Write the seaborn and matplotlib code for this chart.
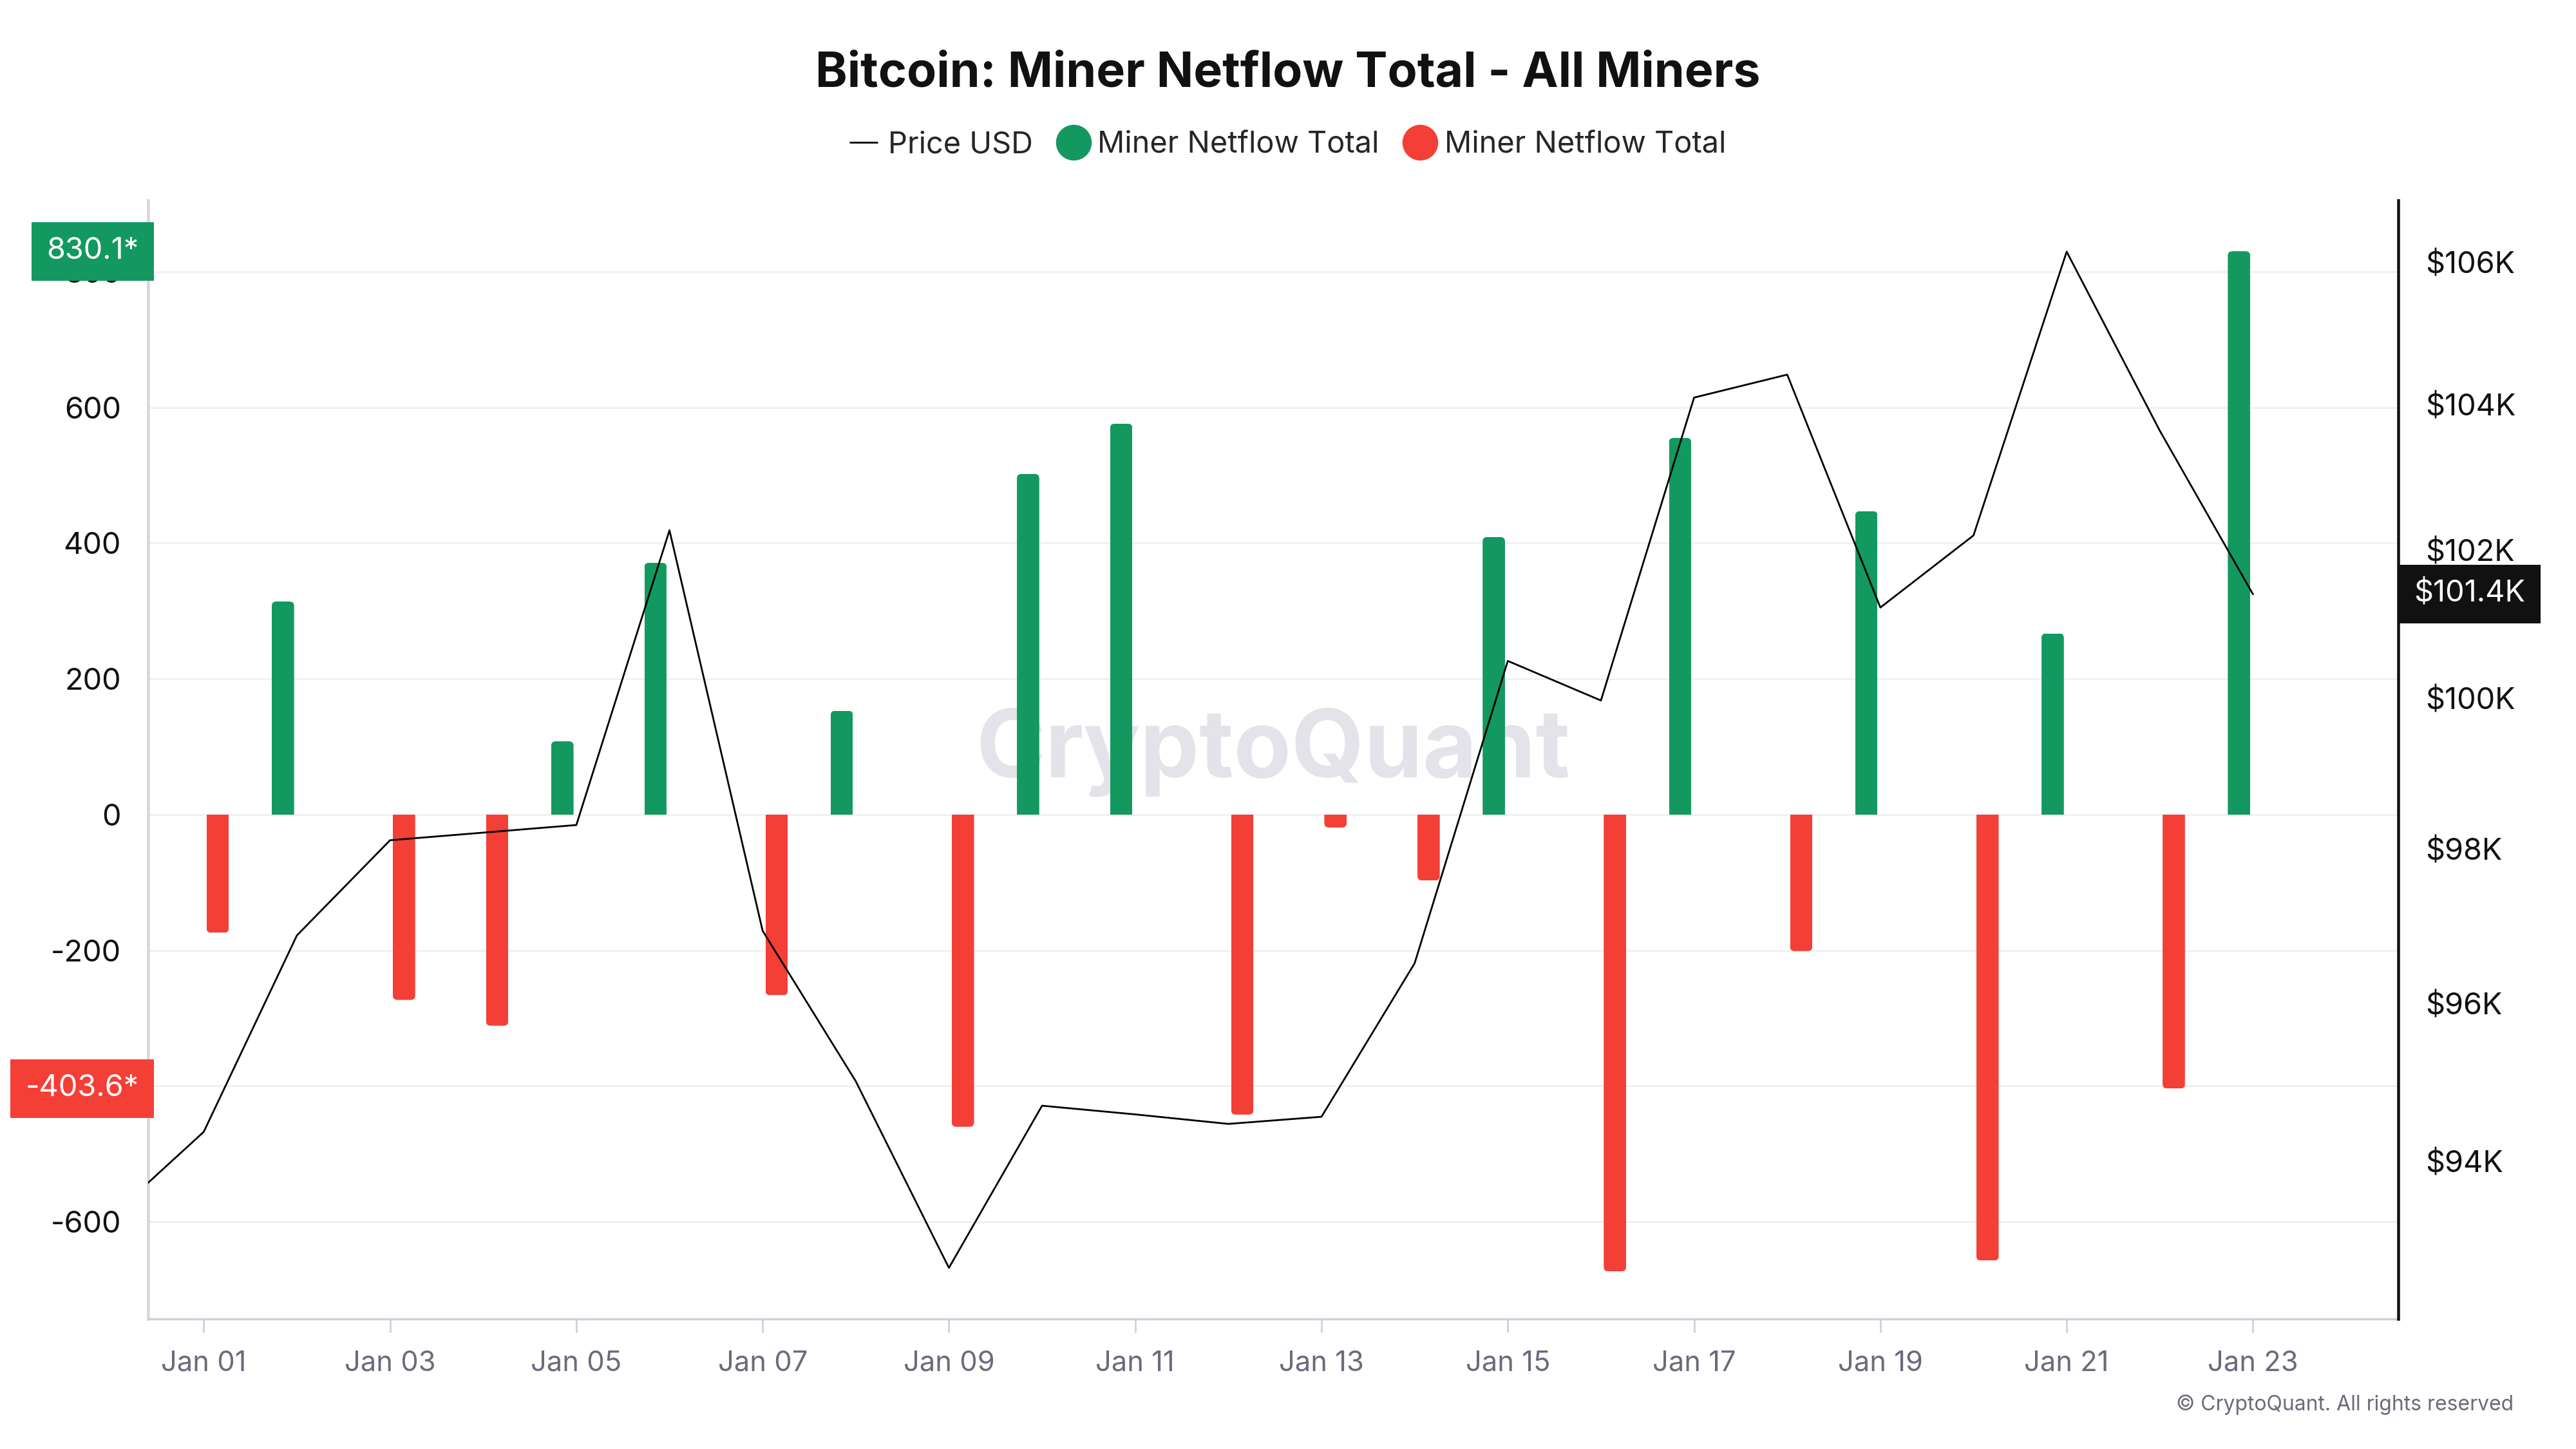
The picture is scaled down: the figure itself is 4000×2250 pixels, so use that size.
import numpy as np
import pandas as pd
import matplotlib
matplotlib.use("Agg")
import matplotlib.pyplot as plt
import matplotlib.transforms as mtransforms
from matplotlib.lines import Line2D
from matplotlib.patches import FancyBboxPatch, Rectangle
from matplotlib.ticker import FixedLocator, FuncFormatter, NullLocator
import seaborn as sns

# ---------------- data ----------------
dates = ["Jan 01", "Jan 02", "Jan 03", "Jan 04", "Jan 05", "Jan 06", "Jan 07", "Jan 08",
         "Jan 09", "Jan 10", "Jan 11", "Jan 12", "Jan 13", "Jan 14", "Jan 15", "Jan 16",
         "Jan 17", "Jan 18", "Jan 19", "Jan 20", "Jan 21", "Jan 22", "Jan 23"]
netflow = [-174, 314, -273, -311, 108, 371, -266, 153, -460, 502, 576, -442, -19, -97,
           409, -673, 555, -201, 447, -657, 267, -403.6, 830.1]

price_dates = ["Dec 31"] + dates
price_usd = [93300, 94370, 96880, 98120, 98220, 98320, 102270, 96940, 95010, 92670,
             94700, 94590, 94470, 94560, 96520, 100500, 99970, 104100, 104420, 101220,
             102200, 106150, 103640, 101400]

xtick_labels = ["Jan 01", "Jan 03", "Jan 05", "Jan 07", "Jan 09", "Jan 11",
                "Jan 13", "Jan 15", "Jan 17", "Jan 19", "Jan 21", "Jan 23"]
left_ticks = [-600, -400, -200, 0, 200, 400, 600, 800]
right_ticks = [94000, 96000, 98000, 100000, 102000, 104000, 106000]

GREEN = "#13995f"
RED = "#f43f36"

# ---------------- style ----------------
sns.set_theme(style="white")
plt.rcParams["font.family"] = ["Inter", "DejaVu Sans"]
plt.rcParams["axes.unicode_minus"] = False

fig = plt.figure(figsize=(16, 9), dpi=250)
ax = fig.add_axes([0.0574, 0.0898, 0.8736, 0.7719])

df = pd.DataFrame({"date": dates, "netflow": netflow})
df["sign"] = np.where(df["netflow"] >= 0, "inflow", "outflow")

sns.barplot(data=df, x="date", y="netflow", hue="sign", order=dates,
            hue_order=["inflow", "outflow"],
            palette={"inflow": GREEN, "outflow": RED}, saturation=1,
            dodge=True, width=0.6, gap=0.2, errorbar=None, legend=False,
            ax=ax, zorder=3, linewidth=0)

ax2 = ax.twinx()
pdf = pd.DataFrame({"date": price_dates, "price": price_usd})
pdf["pos"] = np.arange(len(price_dates)) - 1
sns.lineplot(data=pdf, x="pos", y="price", ax=ax2, color="black", lw=0.8,
             sort=False, zorder=4)
ax2.set_yscale("log")

# limits
ax.set_xlim(-0.6, 23.56)
ax.set_ylim(-743, 905)
ax2.set_ylim(92040, 106880)

# rounded far ends on bars: rounded box extended past the zero line, clipped to the bar
fig.canvas.draw()
inv = ax.transData.inverted()
p0 = inv.transform((0, 0))
p1 = inv.transform((1, 1))
dx_per_px = p1[0] - p0[0]
dy_per_px = p1[1] - p0[1]
asp = dy_per_px / dx_per_px
r_px = 7.0
r_x = r_px * dx_per_px
ext = 3 * r_px * dy_per_px
for patch in list(ax.patches):
    if not isinstance(patch, Rectangle):
        continue
    x, w = patch.get_x(), patch.get_width()
    y, h = patch.get_y(), patch.get_height()
    if h == 0 or np.isnan(h):
        patch.remove()
        continue
    col = patch.get_facecolor()
    y0, hh = min(y, y + h), abs(h)
    rr = min(r_x, w / 2, hh / asp)
    if h > 0:
        fb = FancyBboxPatch((x, -ext), w, hh + ext,
                            boxstyle=f"round,pad=0,rounding_size={rr}",
                            mutation_aspect=asp, fc=col, ec="none", lw=0, zorder=3)
    else:
        fb = FancyBboxPatch((x, y0), w, hh + ext,
                            boxstyle=f"round,pad=0,rounding_size={rr}",
                            mutation_aspect=asp, fc=col, ec="none", lw=0, zorder=3)
    ax.add_patch(fb)
    clip = Rectangle((x, y0), w, hh, transform=ax.transData)
    fb.set_clip_path(clip)
    patch.remove()

# left axis
ax.yaxis.set_major_locator(FixedLocator(left_ticks))
ax.yaxis.set_major_formatter(FuncFormatter(lambda v, p: f"{int(v)}"))
ax.set_xticks([dates.index(l) for l in xtick_labels])
ax.set_xticklabels(xtick_labels)
ax.set_xlabel("")
ax.set_ylabel("")
ax.yaxis.grid(True, color="#f0f0f3", lw=0.8)
ax.xaxis.grid(False)
ax.set_axisbelow(True)
ax.tick_params(axis="y", length=0, pad=12, labelsize=13.5, labelcolor="#111111")
ax.tick_params(axis="x", length=6, width=0.8, color="#d0d0da", pad=8,
               labelsize=12.5, labelcolor="#6b6b7d", bottom=True)

# right axis
ax2.yaxis.set_major_locator(FixedLocator(right_ticks))
ax2.yaxis.set_minor_locator(NullLocator())
ax2.yaxis.set_major_formatter(FuncFormatter(lambda v, p: f"${int(round(v / 1000))}K"))
ax2.set_ylabel("")
ax2.set_xlabel("")
ax2.tick_params(axis="y", which="both", length=0, pad=12, labelsize=13.5,
                labelcolor="#111111")
ax2.grid(False)

# spines
for s in ["top", "right"]:
    ax.spines[s].set_visible(False)
ax.spines["left"].set_color("#d6d6de")
ax.spines["left"].set_linewidth(1.3)
ax.spines["bottom"].set_color("#d0d0da")
ax.spines["bottom"].set_linewidth(1.0)
for s in ["top", "left", "bottom"]:
    ax2.spines[s].set_visible(False)
ax2.spines["right"].set_color("#111111")
ax2.spines["right"].set_linewidth(1.3)

# watermark
ax.text(0.5, 0.507, "CryptoQuant", transform=ax.transAxes, ha="center", va="center",
        fontsize=42, fontweight="bold", color="#e3e3e9", zorder=1)

# value tags
last_pos = [v for v in netflow if v >= 0][-1]
last_neg = [v for v in netflow if v < 0][-1]
tl = mtransforms.blended_transform_factory(ax.transAxes, ax.transData)
ax.text(-0.004, last_pos, f"{last_pos}*", transform=tl, ha="right", va="center",
        color="white", fontsize=13.5, clip_on=False, zorder=6,
        bbox=dict(boxstyle="square,pad=0.5", fc=GREEN, ec="none"))
ax.text(-0.004, last_neg, f"{last_neg}*", transform=tl, ha="right", va="center",
        color="white", fontsize=13.5, clip_on=False, zorder=6,
        bbox=dict(boxstyle="square,pad=0.5", fc=RED, ec="none"))
tr = mtransforms.blended_transform_factory(ax2.transAxes, ax2.transData)
ax2.text(1.007, price_usd[-1], f"${price_usd[-1] / 1000:.1f}K", transform=tr,
         ha="left", va="center", color="white", fontsize=13.5, clip_on=False, zorder=6,
         bbox=dict(boxstyle="square,pad=0.5", fc="#111111", ec="none"))

# title & legend
fig.text(0.5, 0.949, "Bitcoin: Miner Netflow Total - All Miners", ha="center",
         va="center", fontsize=21.7, fontweight="bold", color="#111111")
handles = [
    Line2D([0], [0], color="black", lw=0.8),
    Line2D([0], [0], marker="o", color="none", markerfacecolor=GREEN,
           markeredgecolor="none", markersize=16),
    Line2D([0], [0], marker="o", color="none", markerfacecolor=RED,
           markeredgecolor="none", markersize=16),
]
labels = ["Price USD", "Miner Netflow Total", "Miner Netflow Total"]
fig.legend(handles, labels, loc="center", bbox_to_anchor=(0.5, 0.900), ncol=3,
           frameon=False, fontsize=13.5, handlelength=0.9, handletextpad=0.35,
           columnspacing=0.9)

fig.text(0.9758, 0.0306, "© CryptoQuant. All rights reserved", ha="right",
         va="center", fontsize=9.2, color="#6b6b7b")

fig.savefig("out.png", dpi=250)
